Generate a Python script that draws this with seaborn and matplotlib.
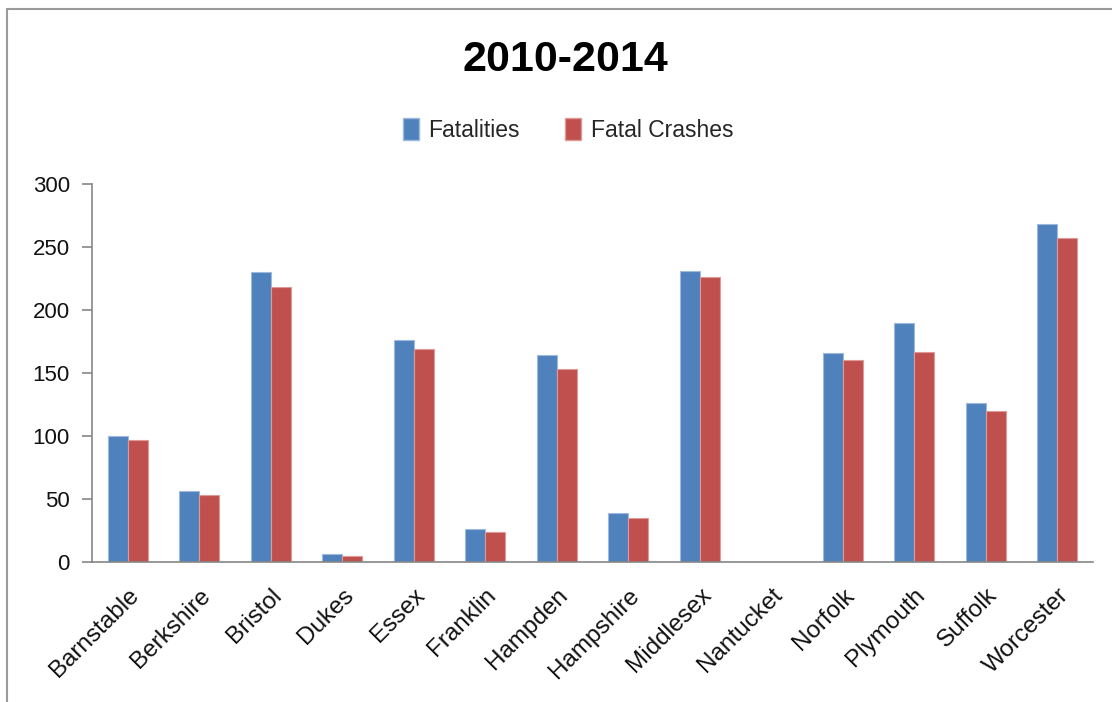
import matplotlib
matplotlib.use("Agg")
import matplotlib.pyplot as plt
import seaborn as sns
import pandas as pd
from matplotlib.patches import Patch
from matplotlib.lines import Line2D

counties = ["Barnstable", "Berkshire", "Bristol", "Dukes", "Essex", "Franklin",
            "Hampden", "Hampshire", "Middlesex", "Nantucket", "Norfolk",
            "Plymouth", "Suffolk", "Worcester"]
fatalities = [100, 56, 230, 6, 176, 26, 164, 39, 231, 0, 166, 190, 126, 268]
fatal_crashes = [97, 53, 218, 5, 169, 24, 153, 35, 226, 0, 160, 167, 120, 257]
series_names = ["Fatalities", "Fatal Crashes"]
title = "2010-2014"

df = pd.DataFrame({
    "County": counties * 2,
    "Value": fatalities + fatal_crashes,
    "Series": [series_names[0]] * len(counties) + [series_names[1]] * len(counties),
})

sns.set_theme(style="white")
plt.rcParams["font.family"] = ["Liberation Sans", "DejaVu Sans"]

colors = ["#4F81BD", "#C0504D"]
edge = ["#9DB9DE", "#DE9A98"]

fig = plt.figure(figsize=(11.12, 7.02), dpi=100)
ax = fig.add_axes([92 / 1112, 1 - 562 / 702, (1093 - 92) / 1112, (562 - 184) / 702])

sns.barplot(data=df, x="County", y="Value", hue="Series", palette=colors,
            width=0.56, gap=0, ax=ax, legend=False, saturation=1)
for i, cont in enumerate(ax.containers):
    for b in cont:
        b.set_edgecolor(edge[i])
        b.set_linewidth(0.8)

ax.set_xlim(-0.5, len(counties) - 0.5)
ax.set_ylim(0, 300)
ax.set_yticks([0, 50, 100, 150, 200, 250, 300])
ax.set_xlabel("")
ax.set_ylabel("")

axis_color = "#868686"
for s in ["top", "right"]:
    ax.spines[s].set_visible(False)
for s in ["left", "bottom"]:
    ax.spines[s].set_color(axis_color)
    ax.spines[s].set_linewidth(1.2)

ax.set_xticks(range(len(counties)))
ax.set_xticklabels(counties, rotation=45, ha="right", rotation_mode="anchor",
                   fontsize=17.5, color="#111111")
ax.set_xticks([i - 0.5 for i in range(len(counties) + 1)], minor=True)
ax.tick_params(axis="x", which="major", length=0, pad=16)
ax.tick_params(axis="x", which="minor", length=7, width=1.2, color=axis_color, direction="out")
ax.tick_params(axis="y", which="major", length=7, width=1.2, color=axis_color,
               direction="out", labelsize=16, labelcolor="#111111", pad=9, left=True)

fig.text(565 / 1112, 1 - 60 / 702, title, ha="center", va="center",
         fontsize=31, fontweight="bold", color="black")

handles = [Patch(facecolor=colors[0], edgecolor=edge[0]),
           Patch(facecolor=colors[1], edgecolor=edge[1])]
fig.legend(handles, series_names, loc="center", bbox_to_anchor=(568 / 1112, 1 - 130 / 702),
           ncol=2, frameon=False, fontsize=16.5, handlelength=0.7, handleheight=1.1,
           handletextpad=0.4, columnspacing=2.0)

fig.add_artist(Line2D([7 / 1112, 7 / 1112], [0, 1 - 9 / 702], transform=fig.transFigure,
                      color="#9a9a9a", linewidth=1.5))
fig.add_artist(Line2D([7 / 1112, 1], [1 - 9 / 702, 1 - 9 / 702], transform=fig.transFigure,
                      color="#9a9a9a", linewidth=1.5))

fig.savefig("out.png", dpi=100, facecolor="white")
